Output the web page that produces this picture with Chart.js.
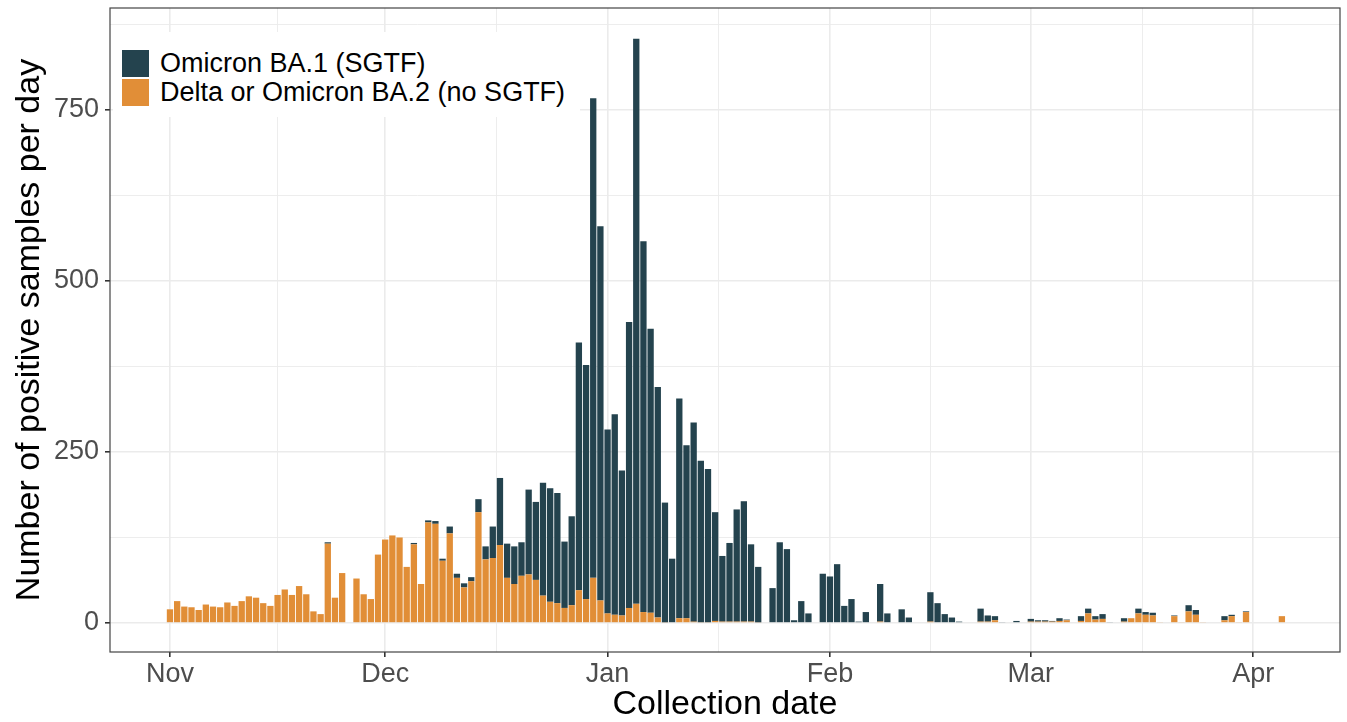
<!DOCTYPE html>
<html>
<head>
<meta charset="utf-8">
<script src="https://cdn.jsdelivr.net/npm/chart.js@4.4.1/dist/chart.umd.min.js"></script>
<style>
html,body{margin:0;padding:0;background:#fff;}
#wrap{position:relative;width:1347px;height:722px;}
#legend{position:absolute;left:113px;top:32px;width:467px;height:85px;background:#fff;font-family:"Liberation Sans",Arial,sans-serif;font-size:27px;color:#000;}
.item{position:absolute;left:9px;height:27px;display:flex;align-items:center;white-space:nowrap;}
.sw{width:27px;height:27px;margin-right:11px;}
</style>
</head>
<body>
<div id="wrap">
  <canvas id="c" width="1347" height="722" style="width:1347px;height:722px"></canvas>
  <div id="legend"></div>
</div>
<script>
// days counted from 1 Nov
const monthLabels = ['Nov','Dec','Jan','Feb','Mar','Apr'];
const monthStarts = [0,30,61,92,120,151];
const minorDays = [15,45.5,76.5,106,135.5];
const yMajor = [0,250,500,750];
const yMinor = [125,375,625,875];

const seriesNames = ['Omicron BA.1 (SGTF)','Delta or Omicron BA.2 (no SGTF)'];
const colours = ['#24434e','#e18e37'];

// Delta or Omicron BA.2 (no SGTF), one value per day from 1 Nov
const noSgtf = [
  20,32,24,23,19,27,24,23,30,25, 32,39,37,29,25,41,49,41,54,42, 17,13,116,37,73,0,65,42,35,100,      // Nov
  122,128,125,82,115,57,147,145,91,131, 66,52,61,162,93,95,114,66,57,69, 71,63,40,31,29,22,26,48,35,66, 33, // Dec
  14,12,11,22,28,16,15,8,1,0, 7,7,2,1,1,3,2,2,2,2, 2,1,0,0,0,0,0,0,0,0, 0,                        // Jan
  0,0,0,0,0,0,0,2,0,0, 0,0,0,0,2,0,0,0,0,0, 0,2,2,4,0,0,0,0,                                     // Feb
  2,2,2,2,3,4,0,3,14,5, 6,0,0,2,7,14,12,11,1,0, 10,1,17,12,1,0,0,4,10,1, 16,                      // Mar
  0,0,0,0,10                                                                                       // Apr
];
// Omicron BA.1 (SGTF)
const sgtf = [
  0,0,0,0,0,0,0,0,0,0, 0,0,0,0,0,0,0,0,0,0, 0,0,2,0,0,0,0,0,0,0,
  0,0,0,0,2,0,3,4,3,10, 6,6,6,19,19,46,98,50,55,49, 124,114,165,166,161,97,130,362,342,701, 547,
  269,293,212,418,826,542,415,337,175,94, 321,253,291,236,224,159,96,115,164,176, 113,81,0,51,118,108,4,32,14,0, 72,
  68,86,25,35,2,16,0,55,14,0, 20,8,0,0,43,29,13,8,2,0, 0,19,9,6,1,0,3,0,
  4,2,2,1,4,1,0,7,7,5, 7,1,0,5,0,7,4,4,0,0, 1,0,9,7,0,0,0,6,2,0, 1,
  0,0,0,0,0
];

const xTicks = [...monthStarts, ...minorDays].sort((a,b)=>a-b);
const yTicks = [...yMajor, ...yMinor].sort((a,b)=>a-b);
const toPts = arr => arr.map((v,i)=>({x:i, y: v ? v : null}));

$ = id => document.getElementById(id);
$('legend').innerHTML = seriesNames.map((n,i)=>`<div class="item" style="top:${18+i*29}px"><div class="sw" style="background:${colours[i]}"></div>${n}</div>`).join('');

const panelBorder = {
  id:'panelBorder',
  afterDraw(chart){
    const {ctx, chartArea:a} = chart;
    ctx.save(); ctx.strokeStyle='#444'; ctx.lineWidth=1.2;
    ctx.strokeRect(a.left, a.top, a.right-a.left, a.bottom-a.top);
    ctx.restore();
  }
};

Chart.defaults.font.family = '"Liberation Sans", Arial, sans-serif';
new Chart($('c'), {
  type:'bar',
  data:{ datasets:[
    { label:seriesNames[1], data:toPts(noSgtf), backgroundColor:colours[1], categoryPercentage:0.88, barPercentage:1 },
    { label:seriesNames[0], data:toPts(sgtf), backgroundColor:colours[0], categoryPercentage:0.88, barPercentage:1 }
  ]},
  options:{
    responsive:false, animation:false,
    layout:{ padding:{ top:8, right:7, bottom:0, left:0 } },
    plugins:{ legend:{display:false}, tooltip:{enabled:false} },
    scales:{
      x:{ type:'linear', stacked:true, min:-8.36, max:163.1, offset:false,
        afterFit: s => { s.height = 70; s.paddingLeft = 0; s.paddingRight = 0; },
        afterBuildTicks: s => { s.ticks = xTicks.map(v=>({value:v})); },
        ticks:{ callback: v => { const k = monthStarts.indexOf(v); return k<0 ? '' : monthLabels[k]; },
          color:'#4d4d4d', font:{size:27}, padding:1, autoSkip:false, maxRotation:0 },
        grid:{ offset:false, color:'#ebebeb', lineWidth: c => monthStarts.includes(c.tick.value) ? 1.6 : 0.9,
          tickColor: c => monthStarts.includes(c.tick.value) ? '#333' : 'rgba(0,0,0,0)', tickLength:5 },
        border:{ display:false },
        title:{ display:true, text:'Collection date', color:'#000', font:{size:34, lineHeight:1}, padding:{top:-3,bottom:0} }
      },
      y:{ stacked:true, min:-42.4, max:899,
        afterFit: s => { s.width = 110; s.paddingTop = 0; s.paddingBottom = 0; },
        afterBuildTicks: s => { s.ticks = yTicks.map(v=>({value:v})); },
        ticks:{ callback: v => yMajor.includes(v) ? String(v) : '', color:'#4d4d4d', font:{size:27}, padding:6, autoSkip:false },
        grid:{ color:'#ebebeb', lineWidth: c => yMajor.includes(c.tick.value) ? 1.6 : 0.9,
          tickColor: c => yMajor.includes(c.tick.value) ? '#333' : 'rgba(0,0,0,0)', tickLength:5 },
        border:{ display:false },
        title:{ display:true, text:'Number of positive samples per day', color:'#000', font:{size:34, lineHeight:1}, padding:{top:13,bottom:0} }
      }
    }
  },
  plugins:[panelBorder]
});
</script>
</body>
</html>
